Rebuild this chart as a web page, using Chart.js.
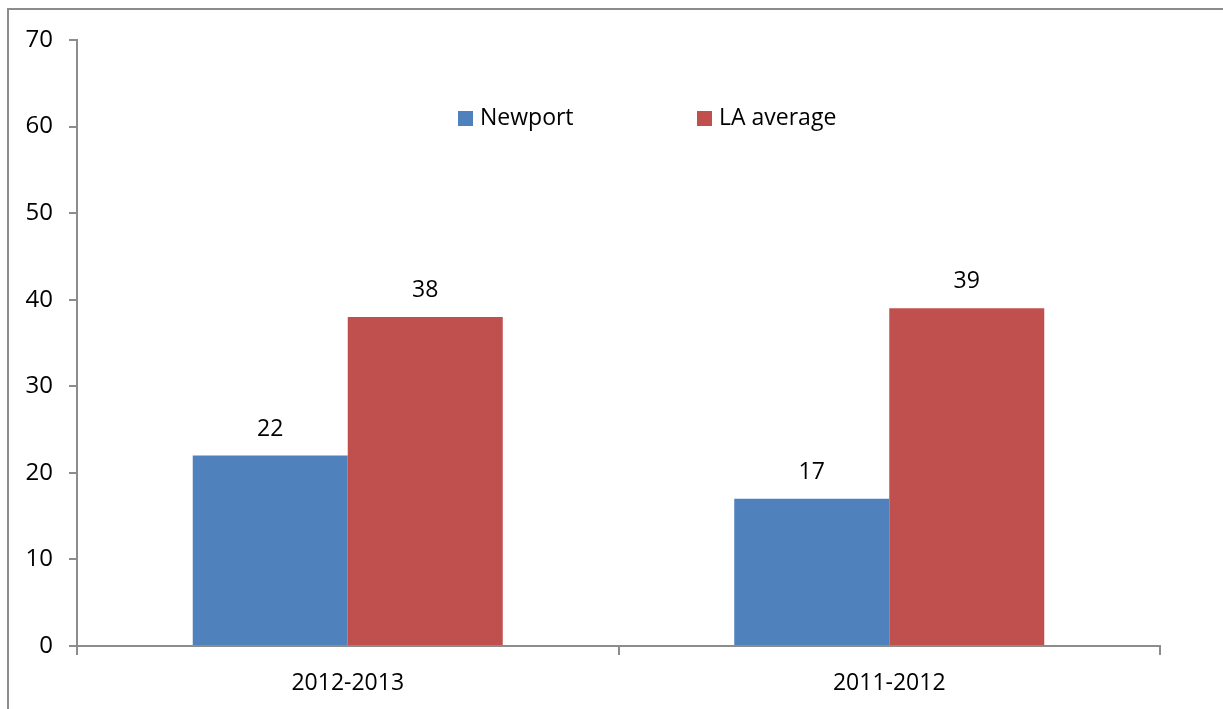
<!DOCTYPE html>
<html>
<head>
<meta charset="utf-8">
<script src="https://cdn.jsdelivr.net/npm/chart.js@4/dist/chart.umd.min.js"></script>
<style>
  html, body { margin: 0; padding: 0; background: #fff; overflow: hidden; }
  #frame {
    position: absolute; left: 7px; top: 8px; width: 2000px; height: 2000px;
    border-left: 2px solid #8c8c8c; border-top: 2px solid #8c8c8c;
  }
  #wrap { position: absolute; left: 0; top: 0; width: 1223px; height: 709px; }
</style>
</head>
<body>
<div id="frame"></div>
<div id="wrap"><canvas id="bars" width="1223" height="709"></canvas></div>
<script>
const categories = ['2012-2013', '2011-2012'];
const newport = [22, 17];
const laAverage = [38, 39];
const yTicks = [0, 10, 20, 30, 40, 50, 60, 70];

const FONT = '"Open Sans", "Liberation Sans", sans-serif';

// value labels above each bar
const valueLabels = {
  id: 'valueLabels',
  afterDatasetsDraw(chart) {
    const ctx = chart.ctx;
    ctx.save();
    ctx.font = '23px ' + FONT;
    ctx.fillStyle = '#000';
    ctx.textAlign = 'center';
    ctx.textBaseline = 'alphabetic';
    chart.data.datasets.forEach((ds, i) => {
      chart.getDatasetMeta(i).data.forEach((bar, j) => {
        ctx.fillText(ds.data[j], bar.x, bar.y - 20);
      });
    });
    ctx.restore();
  }
};

// legend drawn inside the plot area, like the original
const innerLegend = {
  id: 'innerLegend',
  afterDraw(chart) {
    const ctx = chart.ctx;
    const xs = [458, 697];
    ctx.save();
    ctx.font = '23px ' + FONT;
    ctx.textBaseline = 'middle';
    ctx.textAlign = 'left';
    chart.data.datasets.forEach((ds, i) => {
      ctx.fillStyle = ds.backgroundColor;
      ctx.fillRect(xs[i], 111, 15, 15);
      ctx.fillStyle = '#000';
      ctx.fillText(ds.label, xs[i] + 22, 118);
    });
    ctx.restore();
  }
};

new Chart(document.getElementById('bars'), {
  type: 'bar',
  data: {
    labels: categories,
    datasets: [
      { label: 'Newport', data: newport, backgroundColor: '#4F81BD' },
      { label: 'LA average', data: laAverage, backgroundColor: '#C0504D' }
    ]
  },
  options: {
    responsive: false,
    animation: false,
    categoryPercentage: 0.5725,
    barPercentage: 1,
    layout: { padding: { left: 0, top: 40, right: 63, bottom: 0 } },
    plugins: {
      legend: { display: false },
      tooltip: { enabled: false }
    },
    scales: {
      x: {
        grid: { drawOnChartArea: false, tickLength: 9, color: '#8c8c8c', lineWidth: 2 },
        border: { color: '#8c8c8c', width: 2 },
        ticks: { color: '#000', font: { size: 23, family: FONT }, padding: 15 },
        afterFit(scale) { scale.height = 63; }
      },
      y: {
        min: 0,
        max: 70,
        afterBuildTicks(scale) { scale.ticks = yTicks.map(v => ({ value: v })); },
        grid: { drawOnChartArea: false, tickLength: 8, color: '#8c8c8c', lineWidth: 2 },
        border: { color: '#8c8c8c', width: 2 },
        ticks: { color: '#000', font: { size: 24, family: FONT }, padding: 16 },
        afterFit(scale) { scale.width = 77; }
      }
    }
  },
  plugins: [valueLabels, innerLegend]
});
</script>
</body>
</html>
